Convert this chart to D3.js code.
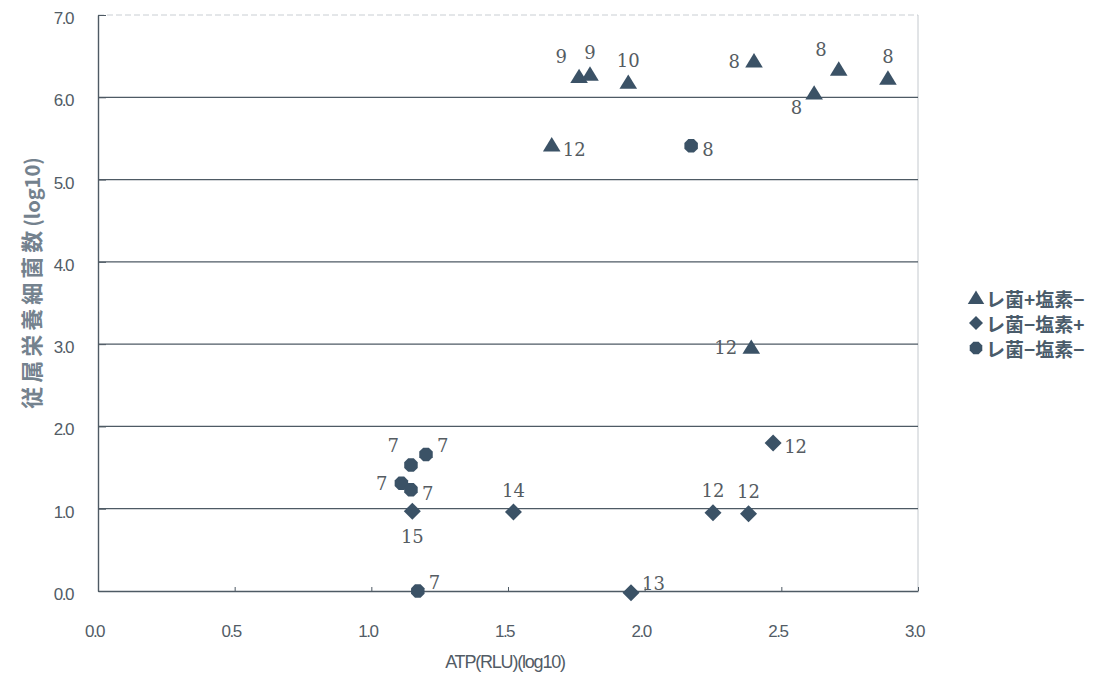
<!DOCTYPE html>
<html>
<head>
<meta charset="utf-8">
<script src="https://cdn.jsdelivr.net/npm/d3@7"></script>
<style>
  body { margin: 0; background: #fff; }
</style>
</head>
<body>
<div id="chart"></div>
<script>
// series: レ菌+塩素- (triangles)
const triX = [1.76, 1.80, 1.94, 2.40, 2.62, 2.71, 2.89, 1.66, 2.39];
const triY = [6.25, 6.28, 6.18, 6.44, 6.05, 6.34, 6.23, 5.42, 2.96];
const triN = ["9", "9", "10", "8", "8", "8", "8", "12", "12"];
const triPos = ["nw", "n", "n", "w", "sw", "nw", "n", "e", "w"];

// series: レ菌-塩素+ (diamonds)
const diaX = [1.15, 1.52, 2.25, 2.38, 2.47, 1.95];
const diaY = [0.97, 0.96, 0.95, 0.94, 1.80, -0.02];
const diaN = ["15", "14", "12", "12", "12", "13"];
const diaPos = ["s", "n", "n", "n", "e", "ne"];

// series: レ菌-塩素- (octagons)
const octX = [1.20, 1.145, 1.11, 1.145, 1.17, 2.17];
const octY = [1.66, 1.53, 1.31, 1.23, 0.0, 5.41];
const octN = ["7", "7", "7", "7", "7", "8"];
const octPos = ["ne", "nw", "w", "e", "ne", "e"];

const xTicks = [0, 0.5, 1, 1.5, 2, 2.5, 3];
const yTicks = [0, 1, 2, 3, 4, 5, 6, 7];
const legendNames = ["レ菌+塩素−", "レ菌−塩素+", "レ菌−塩素−"];

const svgWidth = 1106;
const svgHeight = 679;
const markColor = "#3b5266";
const textColor = "#525c66";

const svg = d3.select("#chart")
  .append("svg")
  .attr("width", svgWidth)
  .attr("height", svgHeight);

const x = d3.scaleLinear([0, 3], [98, 918]);
const y = d3.scaleLinear([0, 7], [591, 15]);

// faint frame top / right
svg.append("line")
  .attr("x1", x(0)).attr("x2", x(3))
  .attr("y1", y(7)).attr("y2", y(7))
  .attr("stroke", "#c9ced3")
  .attr("stroke-dasharray", "6,3");
svg.append("line")
  .attr("x1", x(3)).attr("x2", x(3))
  .attr("y1", y(7)).attr("y2", y(0))
  .attr("stroke", "#c4c9ce");

// grid lines
svg.append("g")
  .selectAll("line")
  .data(yTicks.filter(d => d > 0 && d < 7))
  .enter()
  .append("line")
  .attr("x1", x(0))
  .attr("x2", x(3))
  .attr("y1", d => y(d))
  .attr("y2", d => y(d))
  .attr("stroke", "#4e5a64")
  .attr("stroke-width", 1.2);

// x axis
const xAxis = svg.append("g")
  .attr("transform", `translate(0,${y(0)})`)
  .call(d3.axisBottom(x).tickValues(xTicks).tickSizeInner(-4).tickSizeOuter(0).tickPadding(34)
    .tickFormat(d3.format(".1f")));
xAxis.select(".domain").attr("stroke", "#4e5a64").attr("stroke-width", 1.4);
xAxis.selectAll(".tick line").attr("stroke", "#4e5a64");
xAxis.selectAll("text")
  .style("font-family", "Liberation Sans, Arial, sans-serif")
  .style("font-size", "17px")
  .style("letter-spacing", "-1.5px")
  .attr("dx", "-4")
  .style("fill", textColor);

// y axis
const yAxis = svg.append("g")
  .attr("transform", `translate(${x(0)},0)`)
  .call(d3.axisLeft(y).tickValues(yTicks).tickSizeInner(-8).tickSizeOuter(0).tickPadding(25)
    .tickFormat(d3.format(".1f")));
yAxis.select(".domain").attr("stroke", "#4e5a64").attr("stroke-width", 1.4);
yAxis.selectAll(".tick line").attr("stroke", "#4e5a64");
yAxis.selectAll("text")
  .style("font-family", "Liberation Sans, Arial, sans-serif")
  .style("font-size", "17px")
  .style("letter-spacing", "-1.5px")
  .attr("dy", "0.5em")
  .style("fill", textColor);

// axis titles
svg.append("text")
  .attr("x", 505)
  .attr("y", 668)
  .attr("text-anchor", "middle")
  .style("font-family", "Liberation Sans, Arial, sans-serif")
  .style("font-size", "18px")
  .style("letter-spacing", "-1.2px")
  .style("fill", textColor)
  .text("ATP(RLU)(log10)");

const yTitle = svg.append("text")
  .attr("transform", "translate(40,283) rotate(-90)")
  .attr("text-anchor", "middle")
  .style("font-family", "Noto Sans CJK JP, sans-serif")
  .style("font-size", "22px")
  .style("font-weight", "bold")
  .style("fill", "#74828e");
yTitle.append("tspan").style("letter-spacing", "4px").text("従属栄養細菌数");
yTitle.append("tspan").style("font-size", "20px").text("(log10)");

// label placement codes -> offsets
const offs = {
  n: [0, -22, "middle"],
  s: [0, 25, "middle"],
  e: [11, 4, "start"],
  w: [-14, 0, "end"],
  nw: [-12, -20, "end"],
  ne: [11, -9, "start"],
  sw: [-12, 14, "end"]
};

// octagon path
function octagon(r) {
  const pts = d3.range(8).map(i => {
    const a = Math.PI / 8 + i * Math.PI / 4;
    return [r * Math.cos(a), r * Math.sin(a)];
  });
  return "M" + pts.map(p => p.join(",")).join("L") + "Z";
}

// square diamond (even width and height)
function diamond(r) {
  return `M0,${-r}L${r},0L0,${r}L${-r},0Z`;
}

function triangle(r) {
  return `M0,${-r}L${r * 1.1},${r * 0.8}L${-r * 1.1},${r * 0.8}Z`;
}

const series = [
  { X: triX, Y: triY, N: triN, P: triPos, shape: triangle(8) },
  { X: diaX, Y: diaY, N: diaN, P: diaPos, shape: diamond(8.5) },
  { X: octX, Y: octY, N: octN, P: octPos, shape: octagon(7.3) }
];
const legendShapes = [triangle(7.5), diamond(7), octagon(6.8)];

series.forEach(s => {
  const g = svg.append("g");
  g.selectAll("path")
    .data(s.X)
    .enter()
    .append("path")
    .attr("transform", (d, i) => `translate(${x(s.X[i])},${y(s.Y[i])})`)
    .attr("d", s.shape)
    .attr("fill", markColor);

  g.selectAll("text")
    .data(s.X)
    .enter()
    .append("text")
    .attr("x", (d, i) => x(s.X[i]) + offs[s.P[i]][0])
    .attr("y", (d, i) => y(s.Y[i]) + offs[s.P[i]][1])
    .attr("dominant-baseline", "central")
    .attr("text-anchor", (d, i) => offs[s.P[i]][2])
    .style("font-family", "DejaVu Serif, serif")
    .style("font-size", "18px")
    .style("fill", "#555c62")
    .text((d, i) => s.N[i]);
});

// legend
const legend = svg.append("g");
legendNames.forEach((name, i) => {
  const ly = 298 + i * 25;
  legend.append("path")
    .attr("transform", `translate(976,${ly})`)
    .attr("d", legendShapes[i])
    .attr("fill", markColor);
  legend.append("text")
    .attr("x", 986)
    .attr("y", ly)
    .attr("dominant-baseline", "central")
    .style("font-family", "Noto Sans CJK JP, sans-serif")
    .style("font-size", "19px")
    .style("font-weight", "bold")
    .style("fill", "#4a5b6a")
    .text(name);
});
</script>
</body>
</html>
